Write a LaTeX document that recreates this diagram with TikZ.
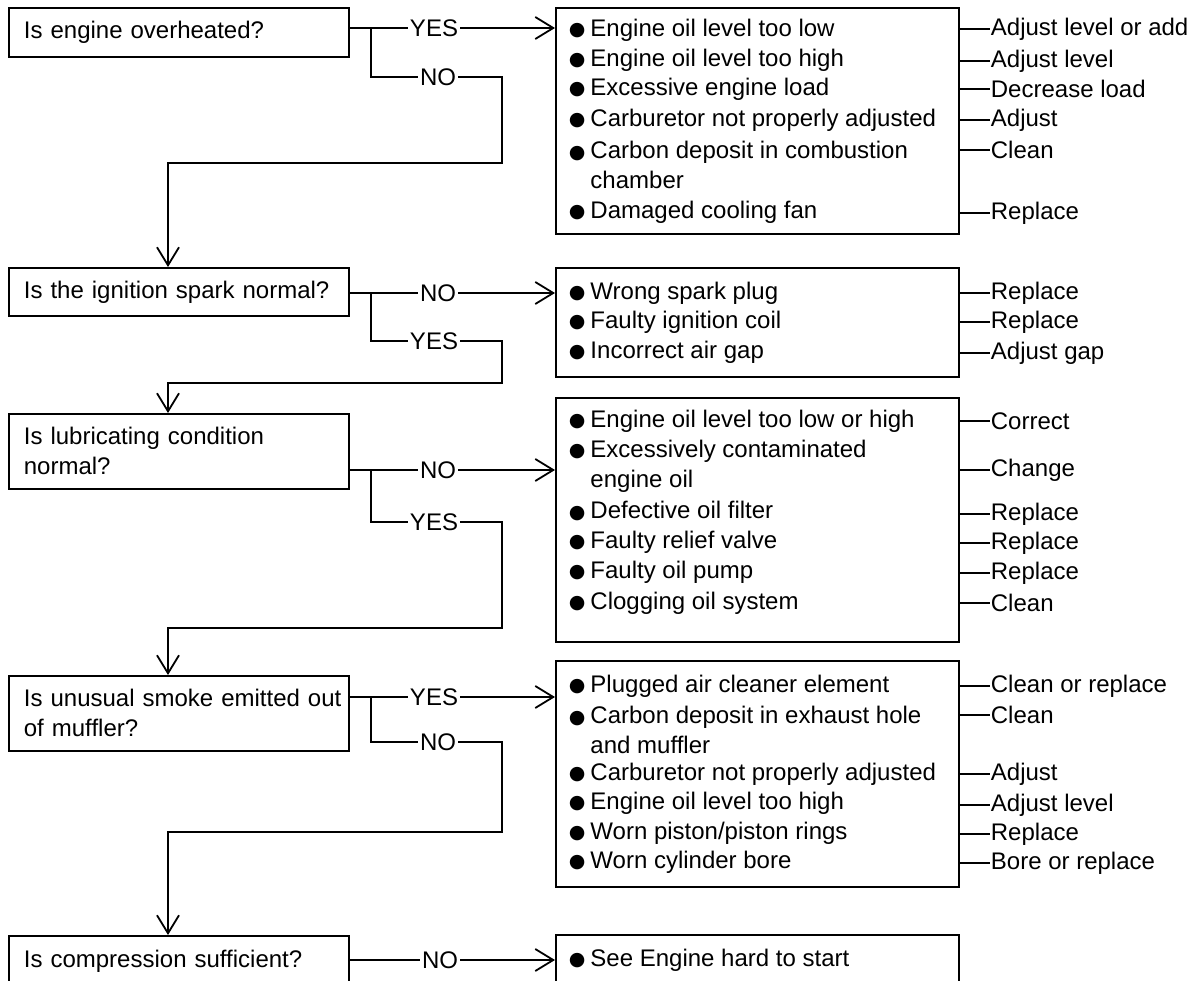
\documentclass[tikz,border=0pt]{standalone}
\usepackage{fontspec}
\setmainfont{Liberation Sans}
\newfontfamily\dotfont{DejaVu Sans}
\usetikzlibrary{positioning,arrows.meta}
\newcommand{\blt}{\raisebox{0.5pt}{\dotfont\fontsize{19}{19}\selectfont ●}\hspace{5pt}}

\begin{document}
\begin{tikzpicture}[
  x=1pt,y=-1pt,
  font=\fontsize{24}{30}\selectfont,
  line width=1.8pt,
  qbox/.style={draw,anchor=north west,text width=310pt,inner xsep=15pt,align=left},
  rbox/.style={draw,anchor=north west,minimum width=403pt},
  cause/.style={anchor=west,inner sep=0pt,align=left},
  fix/.style={anchor=west,inner sep=0pt},
  ans/.style={inner sep=1.5pt},
  >={Straight Barb[length=18pt,width=22pt]}]
  \useasboundingbox (0,0) rectangle (1204,981);
  \clip (0,0) rectangle (1204,981);
  % questions
  \node[qbox,minimum height=49pt] (q1) at (8,7) {Is engine overheated?};
  \node[qbox,minimum height=48pt] (q2) at (8,267) {Is the ignition spark normal?};
  \node[qbox,minimum height=75pt] (q3) at (8,413) {Is lubricating condition\\normal?};
  \node[qbox,minimum height=75pt] (q4) at (8,675) {\mbox{Is unusual smoke emitted out}\\of muffler?};
  \node[qbox,minimum height=50pt] (q5) at (8,935) {Is compression sufficient?};
  % cause boxes
  \node[rbox,minimum height=226pt] (r1) at (555,7) {};
  \node[rbox,minimum height=109pt] (r2) at (555,267) {};
  \node[rbox,minimum height=244pt] (r3) at (555,397) {};
  \node[rbox,minimum height=226pt] (r4) at (555,660) {};
  \node[rbox,minimum height=60pt] (r5) at (555,934) {};
  % overheating
  \node[cause] (c11) at (568,30) {\blt Engine oil level too low};
  \node[cause] (c12) at (568,60) {\blt Engine oil level too high};
  \node[cause] (c13) at (568,89) {\blt Excessive engine load};
  \node[cause] (c14) at (568,120) {\blt Carburetor not properly adjusted};
  \node[cause] (c15) at (568,165) {\blt Carbon deposit in combustion\\\hphantom{\blt}chamber};
  \node[cause] (c16) at (568,212) {\blt Damaged cooling fan};
  \node[fix] (f11) at (990,29) {Adjust level or add};
  \node[fix] (f12) at (990,61) {Adjust level};
  \node[fix] (f13) at (990,89) {Decrease load};
  \node[fix] (f14) at (990,120) {Adjust};
  \node[fix] (f15) at (990,150) {Clean};
  \node[fix] (f16) at (990,213) {Replace};
  \draw (r1.east |- f11.west) -- (f11.west); \draw (r1.east |- f12.west) -- (f12.west);
  \draw (r1.east |- f13.west) -- (f13.west); \draw (r1.east |- f14.west) -- (f14.west);
  \draw (r1.east |- f15.west) -- (f15.west); \draw (r1.east |- f16.west) -- (f16.west);
  % ignition
  \node[cause] (c21) at (568,293) {\blt Wrong spark plug};
  \node[cause] (c22) at (568,322) {\blt Faulty ignition coil};
  \node[cause] (c23) at (568,352) {\blt Incorrect air gap};
  \node[fix] (f21) at (990,293) {Replace};
  \node[fix] (f22) at (990,322) {Replace};
  \node[fix] (f23) at (990,353) {Adjust gap};
  \draw (r2.east |- f21.west) -- (f21.west); \draw (r2.east |- f22.west) -- (f22.west);
  \draw (r2.east |- f23.west) -- (f23.west);
  % lubrication
  \node[cause] (c31) at (568,421) {\blt Engine oil level too low or high};
  \node[cause] (c32) at (568,466) {\blt Excessively contaminated\\\hphantom{\blt}engine oil};
  \node[cause] (c33) at (568,511) {\blt Defective oil filter};
  \node[cause] (c34) at (568,542) {\blt Faulty relief valve};
  \node[cause] (c35) at (568,572) {\blt Faulty oil pump};
  \node[cause] (c36) at (568,603) {\blt Clogging oil system};
  \node[fix] (f31) at (990,421) {Correct};
  \node[fix] (f32) at (990,470) {Change};
  \node[fix] (f33) at (990,514) {Replace};
  \node[fix] (f34) at (990,543) {Replace};
  \node[fix] (f35) at (990,573) {Replace};
  \node[fix] (f36) at (990,603) {Clean};
  \draw (r3.east |- f31.west) -- (f31.west); \draw (r3.east |- f32.west) -- (f32.west);
  \draw (r3.east |- f33.west) -- (f33.west); \draw (r3.east |- f34.west) -- (f34.west);
  \draw (r3.east |- f35.west) -- (f35.west); \draw (r3.east |- f36.west) -- (f36.west);
  % smoke
  \node[cause] (c41) at (568,686) {\blt Plugged air cleaner element};
  \node[cause] (c42) at (568,730) {\blt Carbon deposit in exhaust hole\\\hphantom{\blt}and muffler};
  \node[cause] (c43) at (568,774) {\blt Carburetor not properly adjusted};
  \node[cause] (c44) at (568,803) {\blt Engine oil level too high};
  \node[cause] (c45) at (568,833) {\blt Worn piston/piston rings};
  \node[cause] (c46) at (568,862) {\blt Worn cylinder bore};
  \node[fix] (f41) at (990,686) {Clean or replace};
  \node[fix] (f42) at (990,715) {Clean};
  \node[fix] (f43) at (990,774) {Adjust};
  \node[fix] (f44) at (990,805) {Adjust level};
  \node[fix] (f45) at (990,834) {Replace};
  \node[fix] (f46) at (990,863) {Bore or replace};
  \draw (r4.east |- f41.west) -- (f41.west); \draw (r4.east |- f42.west) -- (f42.west);
  \draw (r4.east |- f43.west) -- (f43.west); \draw (r4.east |- f44.west) -- (f44.west);
  \draw (r4.east |- f45.west) -- (f45.west); \draw (r4.east |- f46.west) -- (f46.west);
  % compression
  \node[cause] (c51) at (568,960) {\blt See Engine hard to start};
  % answers
  \node[ans] (y1) at (434,28) {YES};
  \node[ans] (n1) at (438,77) {NO};
  \node[ans] (n2) at (438,293) {NO};
  \node[ans] (y2) at (434,341) {YES};
  \node[ans] (n3) at (438,470) {NO};
  \node[ans] (y3) at (434,522) {YES};
  \node[ans] (y4) at (434,697) {YES};
  \node[ans] (n4) at (438,742) {NO};
  \node[ans] (n5) at (440,960) {NO};
  \coordinate (j1) at (371,28); \coordinate (j2) at (371,293);
  \coordinate (j3) at (371,470); \coordinate (j4) at (371,697);
  \coordinate (t1) at (502,163); \coordinate (b1) at (168,163);
  \coordinate (t2) at (502,383); \coordinate (b2) at (168,383);
  \coordinate (t3) at (502,628); \coordinate (b3) at (168,628);
  \coordinate (t4) at (502,832); \coordinate (b4) at (168,832);
  % branches
  \draw (q1.east |- y1) -- (y1.west); \draw[->] (y1.east) -- (r1.west |- y1);
  \draw (j1) |- (n1.west);
  \draw[->] (n1.east) -| (t1) -- (b1) -- (b1 |- q2.north);
  \draw (q2.east |- n2) -- (n2.west); \draw[->] (n2.east) -- (r2.west |- n2);
  \draw (j2) |- (y2.west);
  \draw[->] (y2.east) -| (t2) -- (b2) -- (b2 |- q3.north);
  \draw (q3.east |- n3) -- (n3.west); \draw[->] (n3.east) -- (r3.west |- n3);
  \draw (j3) |- (y3.west);
  \draw[->] (y3.east) -| (t3) -- (b3) -- (b3 |- q4.north);
  \draw (q4.east |- y4) -- (y4.west); \draw[->] (y4.east) -- (r4.west |- y4);
  \draw (j4) |- (n4.west);
  \draw[->] (n4.east) -| (t4) -- (b4) -- (b4 |- q5.north);
  \draw (q5.east |- n5) -- (n5.west); \draw[->] (n5.east) -- (r5.west |- n5);
\end{tikzpicture}
\end{document}
